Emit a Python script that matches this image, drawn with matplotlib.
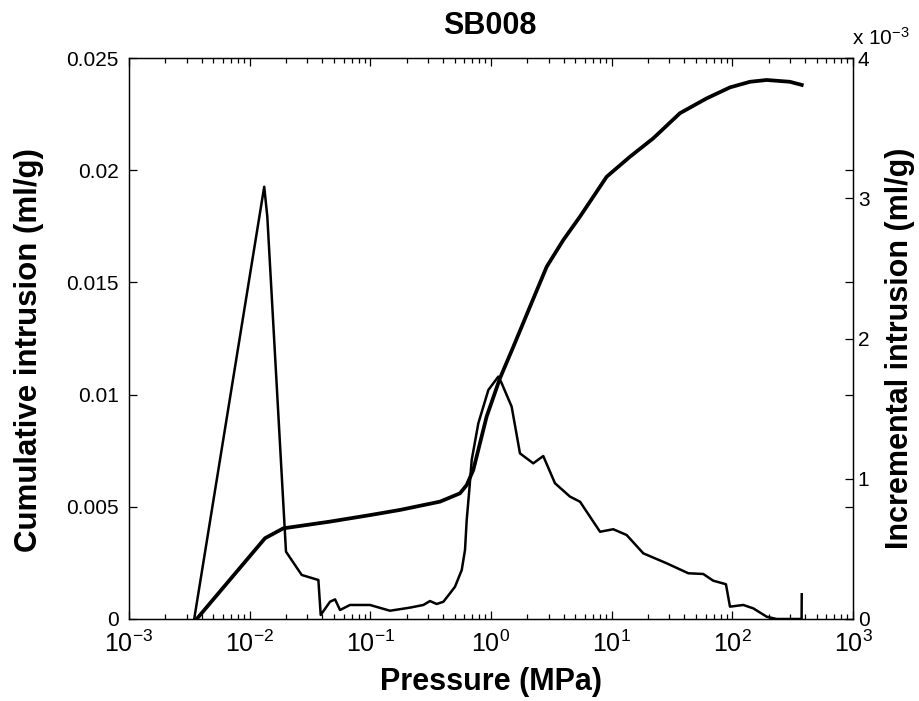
import numpy as np
import matplotlib
matplotlib.use("Agg")
import matplotlib.pyplot as plt
from matplotlib import font_manager
from matplotlib.ticker import FixedLocator, LogLocator, NullFormatter

installed = {f.name for f in font_manager.fontManager.ttflist}
narrow = 'Liberation Sans Narrow' if 'Liberation Sans Narrow' in installed else 'Liberation Sans'

plt.rcParams['font.family'] = ['Liberation Sans', 'DejaVu Sans']
plt.rcParams['mathtext.fontset'] = 'custom'
plt.rcParams['mathtext.rm'] = narrow
plt.rcParams['mathtext.it'] = narrow
plt.rcParams['mathtext.bf'] = narrow

title = "SB008"
xlabel = "Pressure (MPa)"
ylabel_left = "Cumulative intrusion (ml/g)"
ylabel_right = "Incremental intrusion (ml/g)"

# cumulative intrusion (ml/g) vs pressure (MPa)
pressure_cum = [0.00364, 0.0134, 0.0190, 0.0463, 0.0993, 0.176, 0.378, 0.553, 0.629,
                0.713, 0.920, 1.187, 1.531, 2.105, 2.895, 3.975, 5.46, 9.09, 14.18,
                22.1, 36.8, 61.2, 95.6, 140, 192.6, 300, 376]
cumulative = [0, 0.00360, 0.00404, 0.00434, 0.00463, 0.00486, 0.00523, 0.00560, 0.00597,
              0.00664, 0.00902, 0.01073, 0.01213, 0.01392, 0.0157, 0.01689, 0.01793,
              0.01971, 0.0206, 0.02142, 0.02254, 0.0232, 0.02369, 0.02394, 0.02402,
              0.02394, 0.0238]

# incremental intrusion (ml/g) vs pressure (MPa)
pressure_inc = [0.00347, 0.0132, 0.0140, 0.0200, 0.0270, 0.0371, 0.0388, 0.0463, 0.0510,
                0.0561, 0.0678, 0.0993, 0.1455, 0.213, 0.275, 0.312, 0.355, 0.403, 0.457,
                0.503, 0.572, 0.609, 0.629, 0.661, 0.692, 0.785, 0.951, 1.149, 1.226,
                1.483, 1.738, 2.24, 2.71, 3.39, 4.51, 5.47, 8.01, 10.3, 13.3, 18.3, 28.6,
                43.2, 57.4, 69.5, 88.5, 95.6, 123.3, 149, 193, 233, 375, 376]
incremental = [0, 3.082e-3, 2.87e-3, 0.48e-3, 0.314e-3, 0.278e-3, 0.0285e-3, 0.123e-3,
               0.140e-3, 0.064e-3, 0.100e-3, 0.100e-3, 0.059e-3, 0.081e-3, 0.100e-3,
               0.128e-3, 0.107e-3, 0.123e-3, 0.183e-3, 0.230e-3, 0.349e-3, 0.492e-3,
               0.706e-3, 0.920e-3, 1.134e-3, 1.395e-3, 1.633e-3, 1.728e-3, 1.681e-3,
               1.514e-3, 1.181e-3, 1.110e-3, 1.162e-3, 0.968e-3, 0.873e-3, 0.836e-3,
               0.622e-3, 0.640e-3, 0.599e-3, 0.468e-3, 0.397e-3, 0.326e-3, 0.321e-3,
               0.273e-3, 0.248e-3, 0.088e-3, 0.100e-3, 0.076e-3, 0.016e-3, 0, 0,
               0.176e-3]

left_ticks = [0, 0.005, 0.01, 0.015, 0.02, 0.025]
left_ticklabels = ["0", "0.005", "0.01", "0.015", "0.02", "0.025"]
right_ticks = [0, 1e-3, 2e-3, 3e-3, 4e-3]
right_ticklabels = ["0", "1", "2", "3", "4"]
x_ticks = [1e-3, 1e-2, 1e-1, 1e0, 1e1, 1e2, 1e3]
x_ticklabels = [r"$\mathregular{10^{-3}}$", r"$\mathregular{10^{-2}}$", r"$\mathregular{10^{-1}}$",
                r"$\mathregular{10^{0}}$", r"$\mathregular{10^{1}}$", r"$\mathregular{10^{2}}$",
                r"$\mathregular{10^{3}}$"]

W, H = 920, 701
fig = plt.figure(figsize=(W / 100, H / 100), dpi=100)
L, R, T, B = 129, 853, 58, 619
ax = fig.add_axes([L / W, (H - B) / H, (R - L) / W, (B - T) / H])
ax2 = ax.twinx()

ax.plot(pressure_cum, cumulative, color='black', lw=2.7, solid_joinstyle='round')
ax2.plot(pressure_inc, incremental, color='black', lw=1.8, solid_joinstyle='round')

ax.set_xscale('log')
ax.set_xlim(1e-3, 1e3)
ax.set_ylim(0, 0.025)
ax2.set_ylim(0, 4e-3)

ax.xaxis.set_major_locator(FixedLocator(x_ticks))
ax.set_xticklabels(x_ticklabels)
ax.xaxis.set_minor_locator(LogLocator(base=10, subs=np.arange(2, 10), numticks=20))
ax.xaxis.set_minor_formatter(NullFormatter())
ax.set_yticks(left_ticks)
ax.set_yticklabels(left_ticklabels)
ax2.set_yticks(right_ticks)
ax2.set_yticklabels(right_ticklabels)

for a in (ax, ax2):
    for s in a.spines.values():
        s.set_linewidth(0.9)
        s.set_color('black')

ax.tick_params(axis='x', which='major', direction='in', length=5.8, width=0.9,
               top=True, bottom=True, labelsize=18, pad=8.5)
ax.tick_params(axis='x', which='minor', direction='in', length=3.6, width=0.9,
               top=True, bottom=True)
ax.tick_params(axis='y', which='major', direction='in', length=5.8, width=0.9,
               left=True, right=True, labelright=False, labelsize=15, pad=7.5)
ax2.tick_params(axis='y', which='major', direction='in', length=5.8, width=0.9,
                right=True, left=False, labelsize=15, pad=3.5)

fig.text(490 / W, 1 - 26 / H, title, ha='center', va='center', fontsize=22, fontweight='bold')
fig.text(491 / W, 1 - 682 / H, xlabel, ha='center', va='center', fontsize=22, fontweight='bold')
fig.text(29 / W, 1 - 350 / H, ylabel_left, ha='center', va='center', rotation=90,
         fontsize=22.5, fontweight='bold')
fig.text(900 / W, 1 - 348 / H, ylabel_right, ha='center', va='center', rotation=90,
         fontsize=22, fontweight='bold')
fig.text(852 / W, 1 - 45 / H, r"x $\mathregular{10^{-3}}$", ha='left', va='baseline', fontsize=15)

fig.savefig("out.png", dpi=100)
